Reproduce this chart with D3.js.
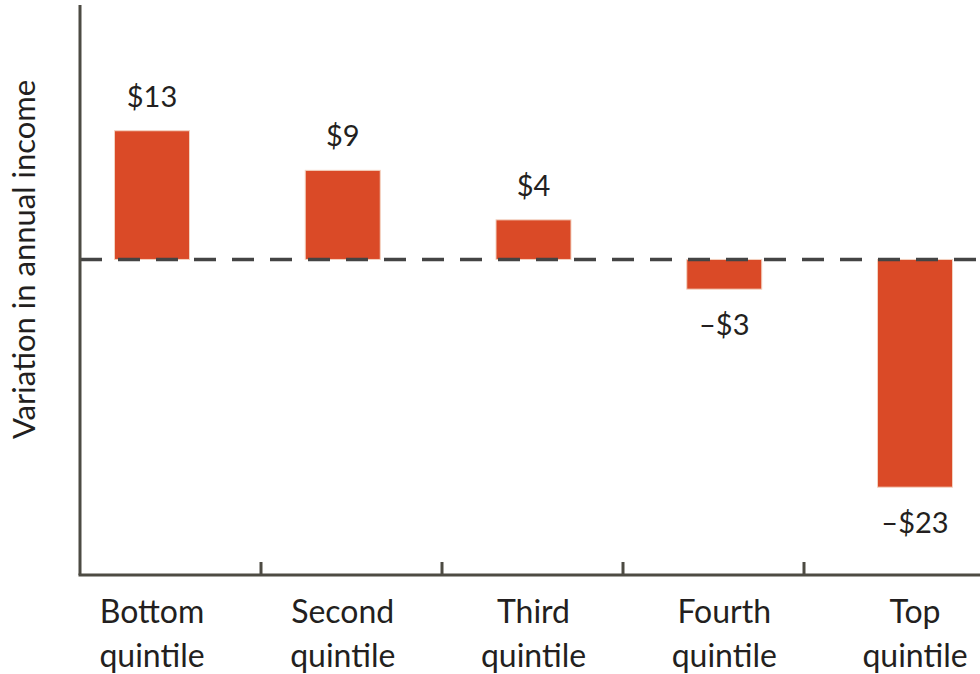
<!DOCTYPE html>
<html><head><meta charset="utf-8">
<script src="https://cdn.jsdelivr.net/npm/d3@7"></script>
<style>html,body{margin:0;padding:0;background:#fff;} svg{display:block;}</style>
</head><body>
<svg id="c" width="980" height="674"></svg>
<script>
const categories = ["Bottom quintile", "Second quintile", "Third quintile", "Fourth quintile", "Top quintile"];
const values = [13, 9, 4, -3, -23];
const valueLabels = ["$13", "$9", "$4", "\u2013$3", "\u2013$23"];
const yTitle = "Variation in annual income";

const svg = d3.select("#c");
const font = "Lato, 'Open Sans', sans-serif";
const textColor = "#231f20";
const axisColor = "#4d4b43";

const y = d3.scaleLinear().domain([-31.87, 25.7]).range([575, 5]);
const xc = d3.scalePoint().domain(categories).range([152, 915]);
const xt = d3.scaleBand().domain(categories).range([80, 985]);
const barW = 75;

// bars
svg.append("g").selectAll("rect").data(values).join("rect")
  .attr("x", (d, i) => xc(categories[i]) - barW / 2)
  .attr("width", barW)
  .attr("y", d => y(Math.max(0, d)))
  .attr("height", d => Math.abs(y(d) - y(0)))
  .attr("fill", "#da4a27")
  .attr("stroke", "#f3d2c0").attr("stroke-width", 1);

// zero dashed line
svg.append("line")
  .attr("x1", 80).attr("x2", 980)
  .attr("y1", y(0)).attr("y2", y(0))
  .attr("stroke", "#444")
  .attr("stroke-width", 3.5)
  .attr("stroke-dasharray", "22 16");

// y axis line
svg.append("line").attr("x1", 80).attr("x2", 80).attr("y1", y.range()[1]).attr("y2", y.range()[0])
  .attr("stroke", axisColor).attr("stroke-width", 3);
// x axis line
svg.append("line").attr("x1", 78.5).attr("x2", 980).attr("y1", y.range()[0]).attr("y2", y.range()[0])
  .attr("stroke", axisColor).attr("stroke-width", 3);
// tick marks between categories
svg.append("g").selectAll("line").data(categories.slice(1)).join("line")
  .attr("x1", d => xt(d)).attr("x2", d => xt(d))
  .attr("y1", y.range()[0] - 13).attr("y2", y.range()[0])
  .attr("stroke", axisColor).attr("stroke-width", 3);

// category labels
const cl = svg.append("g").selectAll("text").data(categories).join("text")
  .attr("x", d => xc(d)).attr("y", 623)
  .attr("text-anchor", "middle")
  .attr("font-family", font).attr("font-size", 32).attr("fill", textColor);
cl.each(function (d) {
  const parts = d.split(" ");
  const t = d3.select(this);
  parts.forEach((p, j) => t.append("tspan").attr("x", xc(d)).attr("dy", j ? 44 : 0).text(p));
});

// value labels
svg.append("g").selectAll("text").data(values).join("text")
  .attr("x", (d, i) => xc(categories[i]))
  .attr("y", d => d >= 0 ? y(d) - 24 : y(d) + 46)
  .attr("text-anchor", "middle")
  .attr("font-family", font).attr("font-size", 29).attr("fill", textColor)
  .text((d, i) => valueLabels[i]);

// y title
svg.append("text")
  .attr("transform", `translate(35,${y(0)}) rotate(-90)`)
  .attr("text-anchor", "middle")
  .attr("font-family", font).attr("font-size", 31).attr("fill", textColor)
  .text(yTitle);
</script>
</body></html>
